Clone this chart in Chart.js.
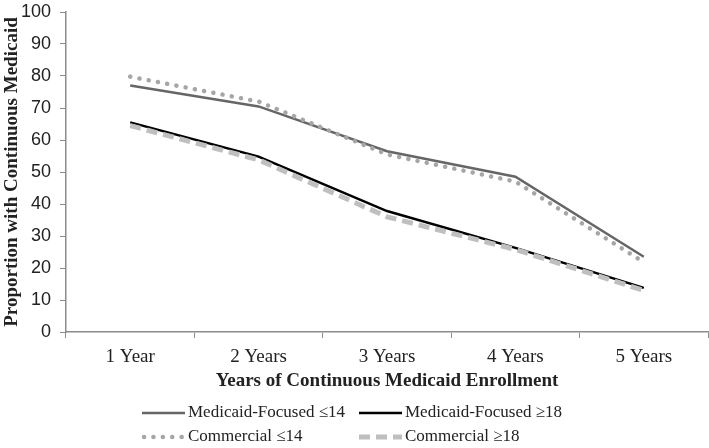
<!DOCTYPE html>
<html>
<head>
<meta charset="utf-8">
<script src="https://cdn.jsdelivr.net/npm/chart.js@4"></script>
<style>
  html, body { margin: 0; padding: 0; background: #fff; }
  #wrap { width: 709px; height: 448px; position: relative; }
</style>
</head>
<body>
<div id="wrap"><canvas id="lineChart"></canvas></div>
<script>
var categories = ["1 Year", "2 Years", "3 Years", "4 Years", "5 Years"];
var medicaidUnder14 = [77, 70.5, 56.5, 48.5, 23.5];
var medicaidOver18 = [65.5, 54.8, 37.8, 26.3, 13.8];
var commercialUnder14 = [79.8, 72, 55.5, 47, 21.8];
var commercialOver18 = [64.5, 53.8, 36, 25.8, 13];
var yTicks = [0, 10, 20, 30, 40, 50, 60, 70, 80, 90, 100];

var serif = "'Liberation Serif', 'Times New Roman', serif";
var sans = "'Liberation Sans', Arial, sans-serif";

// legend drawn in two rows of two, like the original
var legendPlugin = {
    id: 'twoRowLegend',
    afterDraw: function (chart) {
        var ctx = chart.ctx;
        var slots = [
            { x: 142, y: 413 }, { x: 359, y: 413 },
            { x: 142, y: 437 }, { x: 359, y: 437 }
        ];
        chart.data.datasets.forEach(function (ds, i) {
            var s = slots[i];
            ctx.save();
            ctx.strokeStyle = ds.borderColor;
            ctx.lineWidth = ds.borderWidth;
            ctx.lineCap = ds.borderCapStyle || 'butt';
            ctx.setLineDash(ds.borderDash || []);
            ctx.beginPath();
            ctx.moveTo(s.x + (ds.legendInset || 0), s.y);
            ctx.lineTo(s.x + 43, s.y);
            ctx.stroke();
            ctx.setLineDash([]);
            ctx.fillStyle = '#222';
            ctx.font = '17px ' + serif;
            ctx.textBaseline = 'middle';
            ctx.fillText(ds.label, s.x + 46, s.y);
            ctx.restore();
        });
    }
};

var ctx = document.getElementById('lineChart').getContext('2d');
var lineChart = new Chart(ctx, {
    type: 'line',
    data: {
        labels: categories,
        datasets: [{
            label: 'Medicaid-Focused ≤14',
            data: medicaidUnder14,
            borderColor: '#666666',
            borderWidth: 2.5,
            order: 2,
        }, {
            label: 'Medicaid-Focused ≥18',
            data: medicaidOver18,
            borderColor: '#000000',
            borderWidth: 2.5,
            order: 2,
        }, {
            label: 'Commercial ≤14',
            data: commercialUnder14,
            borderColor: '#a6a6a6',
            borderWidth: 4.5,
            borderDash: [0.1, 9.3],
            borderCapStyle: 'round',
            legendInset: 2,
            order: 1,
        }, {
            label: 'Commercial ≥18',
            data: commercialOver18,
            borderColor: '#bfbfbf',
            borderWidth: 5,
            borderDash: [11, 6],
            order: 1,
        }]
    },
    options: {
        responsive: true,
        maintainAspectRatio: false,
        animation: false,
        events: [],
        elements: {
            point: { radius: 0 },
            line: { tension: 0 }
        },
        layout: {
            padding: { top: 0, right: 1, left: 0, bottom: 56 }
        },
        scales: {
            x: {
                offset: true,
                afterFit: function (scale) { scale.height = 60; },
                ticks: {
                    color: '#222',
                    padding: 8,
                    maxRotation: 0,
                    font: { size: 19, family: serif }
                },
                grid: {
                    offset: true,
                    drawOnChartArea: false,
                    tickLength: 6,
                    color: '#8c8c8c'
                },
                border: { color: '#8c8c8c', width: 1.5 },
                title: {
                    display: true,
                    text: 'Years of Continuous Medicaid Enrollment',
                    color: '#222',
                    padding: { top: 0, bottom: 0 },
                    font: { size: 19, weight: 'bold', family: serif }
                }
            },
            y: {
                min: 0,
                max: 100,
                afterFit: function (scale) {
                    scale.width = 66;
                    scale.paddingTop = 12;
                },
                afterBuildTicks: function (scale) {
                    scale.ticks = yTicks.map(function (v) { return { value: v }; });
                },
                ticks: {
                    color: '#222',
                    padding: 9,
                    font: { size: 18, family: sans, lineHeight: 1 }
                },
                grid: {
                    drawOnChartArea: false,
                    tickLength: 6,
                    color: '#8c8c8c'
                },
                border: { color: '#8c8c8c', width: 1.5 },
                title: {
                    display: true,
                    text: 'Proportion with Continuous Medicaid',
                    color: '#222',
                    padding: { top: 1, bottom: 0 },
                    font: { size: 19, weight: 'bold', family: serif }
                }
            }
        },
        plugins: {
            legend: { display: false },
            tooltip: { enabled: false }
        }
    },
    plugins: [legendPlugin]
});
</script>
</body>
</html>
